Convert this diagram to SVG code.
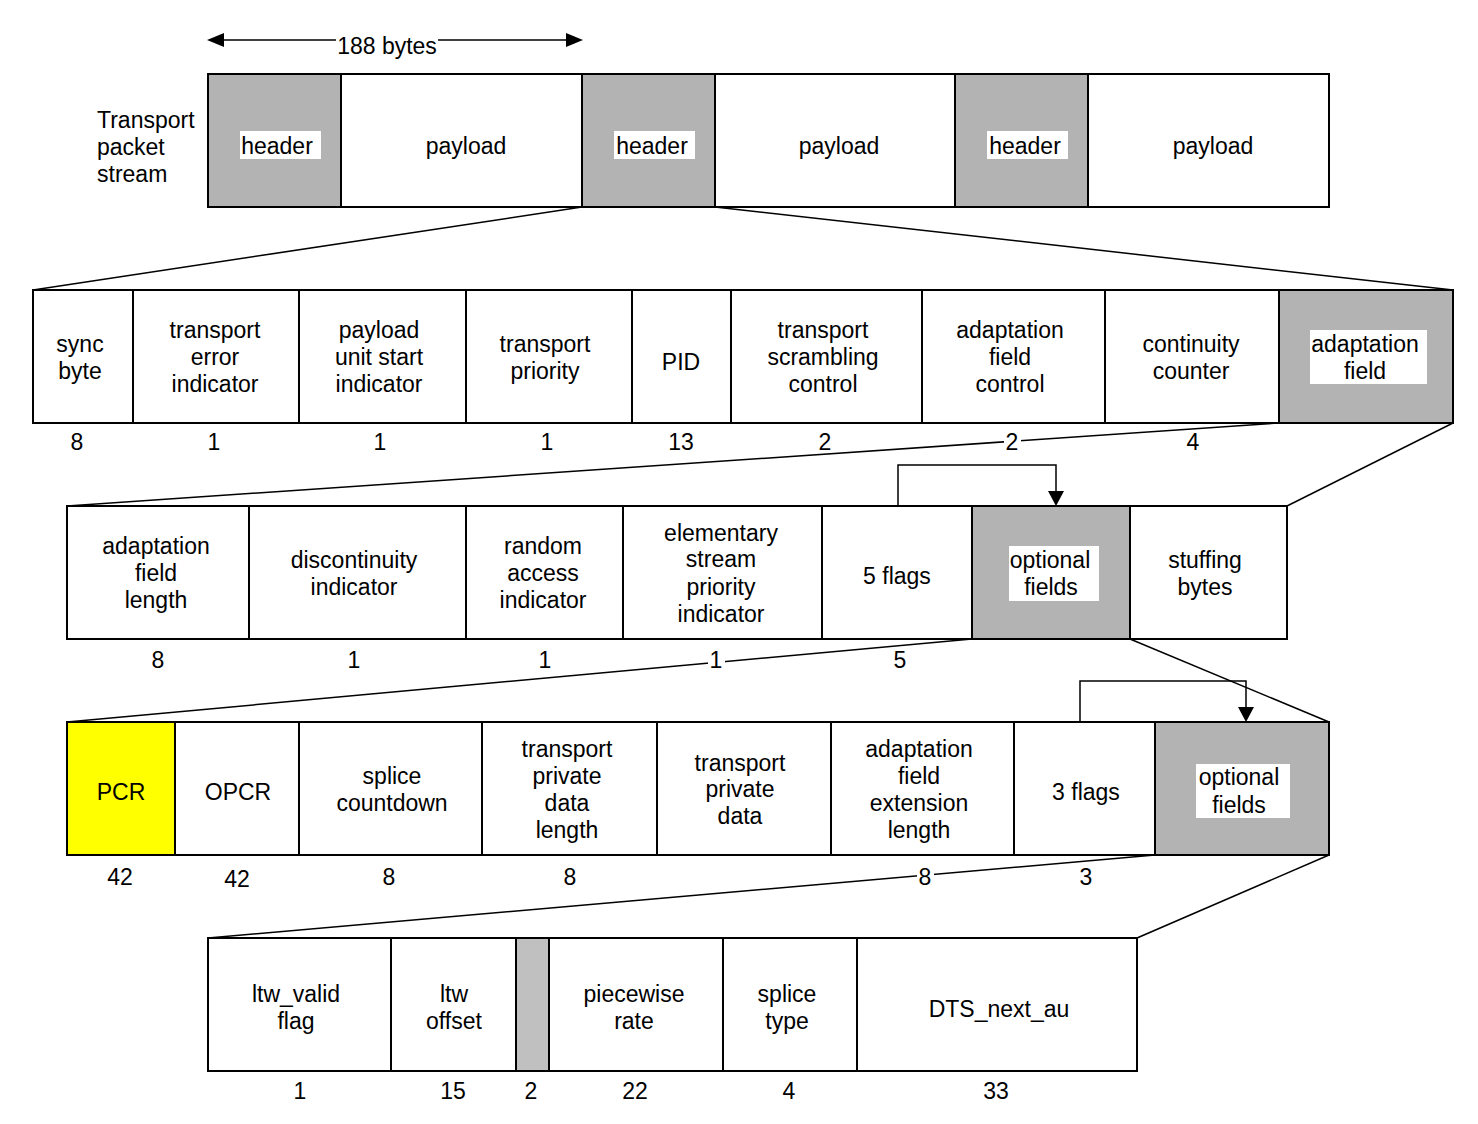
<svg xmlns="http://www.w3.org/2000/svg" width="1478" height="1124" viewBox="0 0 1478 1124">
<defs>
<style>
text{font-family:"Liberation Sans",Arial,sans-serif;font-size:23px;fill:#000;text-anchor:middle}
.c{fill:#fff;stroke:#000;stroke-width:2}
.g{fill:#b3b3b3;stroke:#000;stroke-width:2}
.g2{fill:#c0c0c0;stroke:#000;stroke-width:2}
.y{fill:#ffff00;stroke:#000;stroke-width:2}
.bg{fill:#fff}
.ln{fill:none;stroke:#000;stroke-width:1.5}
.l{text-anchor:start}
</style>
</defs>

<g id="connectors">
<line class="ln" x1="222" y1="40" x2="568" y2="40"/>
<path d="M207,40 L224,33 L224,47 z"/>
<path d="M583,40 L566,33 L566,47 z"/>
<line class="ln" x1="582" y1="207" x2="33" y2="290"/>
<line class="ln" x1="715" y1="207" x2="1453" y2="290"/>
<line class="ln" x1="1279" y1="423" x2="67" y2="506"/>
<line class="ln" x1="1453" y1="423" x2="1287" y2="506"/>
<line class="ln" x1="972" y1="639" x2="67" y2="722"/>
<line class="ln" x1="1130" y1="639" x2="1329" y2="722"/>
<line class="ln" x1="1155" y1="855" x2="208" y2="938"/>
<line class="ln" x1="1329" y1="855" x2="1137" y2="938"/>
<path class="ln" d="M898,506 V465 H1056 V492"/>
<path d="M1056,506 L1048,491 L1064,491 z"/>
<path class="ln" d="M1080,722 V681 H1246 V708"/>
<path d="M1246,722 L1238,707 L1254,707 z"/>
</g>

<g id="title">
<rect class="bg" x="336" y="32" width="102" height="20"/>
<text x="387" y="54">188 bytes</text>
<text class="l" x="97" y="128">Transport</text>
<text class="l" x="97" y="155">packet</text>
<text class="l" x="97" y="182">stream</text>
</g>

<g id="row1">
<g id="r1h1"><rect class="g" x="208" y="74" width="133" height="133"/><rect class="bg" x="240" y="131" width="81" height="28"/><text x="277" y="154">header</text></g>
<g id="r1p1"><rect class="c" x="341" y="74" width="241" height="133"/><text x="466" y="154">payload</text></g>
<g id="r1h2"><rect class="g" x="582" y="74" width="133" height="133"/><rect class="bg" x="614" y="131" width="81" height="28"/><text x="652" y="154">header</text></g>
<g id="r1p2"><rect class="c" x="715" y="74" width="240" height="133"/><text x="839" y="154">payload</text></g>
<g id="r1h3"><rect class="g" x="955" y="74" width="133" height="133"/><rect class="bg" x="987" y="131" width="81" height="28"/><text x="1025" y="154">header</text></g>
<g id="r1p3"><rect class="c" x="1088" y="74" width="241" height="133"/><text x="1213" y="154">payload</text></g>
</g>

<g id="row2">
<g id="sync"><rect class="c" x="33" y="290" width="100" height="133"/><text x="80" y="352">sync</text><text x="80" y="379">byte</text></g>
<g id="tei"><rect class="c" x="133" y="290" width="166" height="133"/><text x="215" y="338">transport</text><text x="215" y="365">error</text><text x="215" y="392">indicator</text></g>
<g id="pusi"><rect class="c" x="299" y="290" width="167" height="133"/><text x="379" y="338">payload</text><text x="379" y="365">unit start</text><text x="379" y="392">indicator</text></g>
<g id="tp"><rect class="c" x="466" y="290" width="166" height="133"/><text x="545" y="352">transport</text><text x="545" y="379">priority</text></g>
<g id="pid"><rect class="c" x="632" y="290" width="99" height="133"/><text x="681" y="370">PID</text></g>
<g id="tsc"><rect class="c" x="731" y="290" width="191" height="133"/><text x="823" y="338">transport</text><text x="823" y="365">scrambling</text><text x="823" y="392">control</text></g>
<g id="afc"><rect class="c" x="922" y="290" width="183" height="133"/><text x="1010" y="338">adaptation</text><text x="1010" y="365">field</text><text x="1010" y="392">control</text></g>
<g id="cc"><rect class="c" x="1105" y="290" width="174" height="133"/><text x="1191" y="352">continuity</text><text x="1191" y="379">counter</text></g>
<g id="af"><rect class="g" x="1279" y="290" width="174" height="133"/><rect class="bg" x="1310" y="330" width="117" height="54"/><text x="1365" y="352">adaptation</text><text x="1365" y="379">field</text></g>
</g>

<g id="row2num">
<text x="77" y="450">8</text><text x="214" y="450">1</text><text x="380" y="450">1</text><text x="547" y="450">1</text><text x="681" y="450">13</text><text x="825" y="450">2</text>
<rect class="bg" x="1004" y="432" width="17" height="20"/><text x="1012" y="450">2</text>
<text x="1193" y="450">4</text>
</g>

<g id="row3">
<g id="afl"><rect class="c" x="67" y="506" width="182" height="133"/><text x="156" y="554">adaptation</text><text x="156" y="581">field</text><text x="156" y="608">length</text></g>
<g id="di"><rect class="c" x="249" y="506" width="217" height="133"/><text x="354" y="568">discontinuity</text><text x="354" y="595">indicator</text></g>
<g id="rai"><rect class="c" x="466" y="506" width="157" height="133"/><text x="543" y="554">random</text><text x="543" y="581">access</text><text x="543" y="608">indicator</text></g>
<g id="espi"><rect class="c" x="623" y="506" width="199" height="133"/><text x="721" y="541">elementary</text><text x="721" y="567">stream</text><text x="721" y="595">priority</text><text x="721" y="622">indicator</text></g>
<g id="flags5"><rect class="c" x="822" y="506" width="150" height="133"/><text x="897" y="584">5 flags</text></g>
<g id="opt1"><rect class="g" x="972" y="506" width="158" height="133"/><rect class="bg" x="1009" y="546" width="90" height="55"/><text x="1050" y="568">optional</text><text x="1051" y="595">fields</text></g>
<g id="stuff"><rect class="c" x="1130" y="506" width="157" height="133"/><text x="1205" y="568">stuffing</text><text x="1205" y="595">bytes</text></g>
</g>

<g id="row3num">
<text x="158" y="668">8</text><text x="354" y="668">1</text><text x="545" y="668">1</text>
<rect class="bg" x="708" y="650" width="17" height="20"/><text x="716" y="668">1</text>
<text x="900" y="668">5</text>
</g>

<g id="row4">
<g id="pcr"><rect class="y" x="67" y="722" width="108" height="133"/><text x="121" y="800">PCR</text></g>
<g id="opcr"><rect class="c" x="175" y="722" width="124" height="133"/><text x="238" y="800">OPCR</text></g>
<g id="sc"><rect class="c" x="299" y="722" width="183" height="133"/><text x="392" y="784">splice</text><text x="392" y="811">countdown</text></g>
<g id="tpdl"><rect class="c" x="482" y="722" width="175" height="133"/><text x="567" y="757">transport</text><text x="567" y="784">private</text><text x="567" y="811">data</text><text x="567" y="838">length</text></g>
<g id="tpd"><rect class="c" x="657" y="722" width="174" height="133"/><text x="740" y="771">transport</text><text x="740" y="797">private</text><text x="740" y="824">data</text></g>
<g id="afel"><rect class="c" x="831" y="722" width="183" height="133"/><text x="919" y="757">adaptation</text><text x="919" y="784">field</text><text x="919" y="811">extension</text><text x="919" y="838">length</text></g>
<g id="flags3"><rect class="c" x="1014" y="722" width="141" height="133"/><text x="1086" y="800">3 flags</text></g>
<g id="opt2"><rect class="g" x="1155" y="722" width="174" height="133"/><rect class="bg" x="1196" y="764" width="94" height="54"/><text x="1239" y="785">optional</text><text x="1239" y="813">fields</text></g>
</g>

<g id="row4num">
<text x="120" y="885">42</text><text x="237" y="887">42</text><text x="389" y="885">8</text><text x="570" y="885">8</text>
<rect class="bg" x="917" y="867" width="17" height="20"/><text x="925" y="885">8</text>
<text x="1086" y="885">3</text>
</g>

<g id="row5">
<g id="ltwv"><rect class="c" x="208" y="938" width="183" height="133"/><text x="296" y="1002">ltw_valid</text><text x="296" y="1029">flag</text></g>
<g id="ltwo"><rect class="c" x="391" y="938" width="125" height="133"/><text x="454" y="1002">ltw</text><text x="454" y="1029">offset</text></g>
<g id="res"><rect class="g2" x="516" y="938" width="33" height="133"/></g>
<g id="pr"><rect class="c" x="549" y="938" width="174" height="133"/><text x="634" y="1002">piecewise</text><text x="634" y="1029">rate</text></g>
<g id="st"><rect class="c" x="723" y="938" width="134" height="133"/><text x="787" y="1002">splice</text><text x="787" y="1029">type</text></g>
<g id="dts"><rect class="c" x="857" y="938" width="280" height="133"/><text x="999" y="1017">DTS_next_au</text></g>
</g>

<g id="row5num">
<text x="300" y="1099">1</text><text x="453" y="1099">15</text><text x="531" y="1099">2</text><text x="635" y="1099">22</text><text x="789" y="1099">4</text><text x="996" y="1099">33</text>
</g>
</svg>
